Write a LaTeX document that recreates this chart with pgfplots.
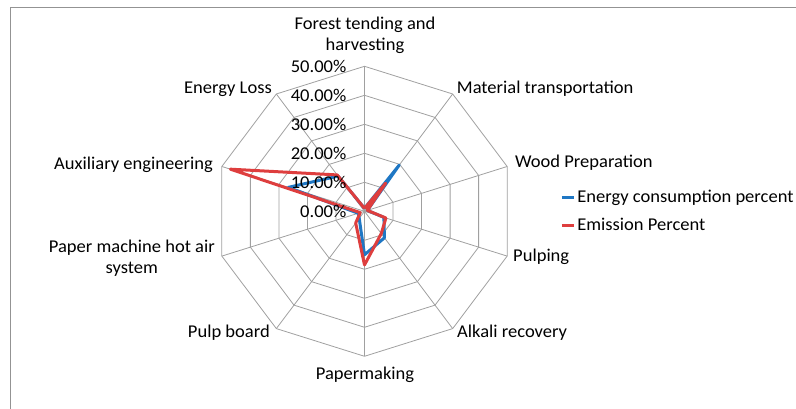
\documentclass[border=0pt]{standalone}
\usepackage{pgfplots}
\pgfplotsset{compat=1.18}
\usepackage{fontspec}
\setmainfont[FakeStretch=1.03]{Carlito}
\definecolor{serblue}{RGB}{31,119,196}
\definecolor{serred}{RGB}{222,62,62}
\definecolor{gridc}{RGB}{160,160,160}
\begin{document}
\begin{tikzpicture}[x=1pt,y=1pt,font=\fontsize{18}{21}\selectfont]
\useasboundingbox (0,0) rectangle (796,409);
\draw[gray!85,line width=1pt] (10,401) -- (796,401);
\draw[gray!85,line width=1pt] (10,401) -- (10,0);
\begin{axis}[at={(364.5pt,197.7pt)}, anchor=center, scale only axis,
  width=300pt, height=290pt, xmin=-50, xmax=50, ymin=-50, ymax=50,
  hide axis, clip=false,
  legend style={draw=none, fill=none, at={(rel axis cs:1.152,0.5)}, anchor=west,
    font=\fontsize{18}{21}\selectfont, row sep=10pt, inner sep=0pt,
    legend cell align=left},
  legend image code/.code={\draw[#1,line width=3pt] (0pt,0pt) -- (12pt,0pt);},
]
% rings
\pgfplotsinvokeforeach{10,20,30,40,50}{
\addplot[gridc, line width=0.8pt, data cs=polar, forget plot] coordinates {
(90,#1) (54,#1) (18,#1) (-18,#1) (-54,#1) (-90,#1) (-126,#1) (-162,#1) (162,#1) (126,#1) (90,#1)};
}
% spokes
\pgfplotsinvokeforeach{90,54,18,-18,-54,-90,-126,-162,162,126}{
\addplot[gridc, line width=0.8pt, data cs=polar, forget plot] coordinates {(#1,0) (#1,50)};
}
% Energy consumption percent
\addplot[serblue, line width=3pt, line join=round, data cs=polar] coordinates {
(90,1.0) (54,19.7) (18,1.0) (-18,6.8) (-54,11.3) (-90,15.0) (-126,3.0) (-162,2.2) (162,26.7) (126,15.0) (90,1.0)};
\addlegendentry{Energy consumption percent}
% Emission Percent
\addplot[serred, line width=3pt, line join=round, data cs=polar] coordinates {
(90,1.0) (54,12.0) (18,1.0) (-18,7.5) (-54,9.5) (-90,18.5) (-126,5.0) (-162,1.5) (162,47.0) (126,15.5) (90,1.0)};
\addlegendentry{Emission Percent}
% radial tick labels
\pgfplotsinvokeforeach{0,10,20,30,40,50}{
\node[anchor=east, inner sep=0pt] at (axis cs:-6,#1) {#1.00\%};
}
\end{axis}
\node[align=center] at (365,373.5) {Forest tending and\\harvesting};
\node[anchor=west, inner sep=0pt] at (456.7,320) {Material transportation};
\node[anchor=west, inner sep=0pt] at (515,246) {Wood Preparation};
\node[anchor=west, inner sep=0pt] at (513,152) {Pulping};
\node[anchor=west, inner sep=0pt] at (457,76) {Alkali recovery};
\node[inner sep=0pt] at (365,34) {Papermaking};
\node[anchor=east, inner sep=0pt] at (270,76) {Pulp board};
\node[anchor=east, align=center, inner sep=0pt] at (215,151) {Paper machine hot air\\system};
\node[anchor=east, inner sep=0pt] at (213,244) {Auxiliary engineering};
\node[anchor=east, inner sep=0pt] at (272,320) {Energy Loss};
\end{tikzpicture}
\end{document}
